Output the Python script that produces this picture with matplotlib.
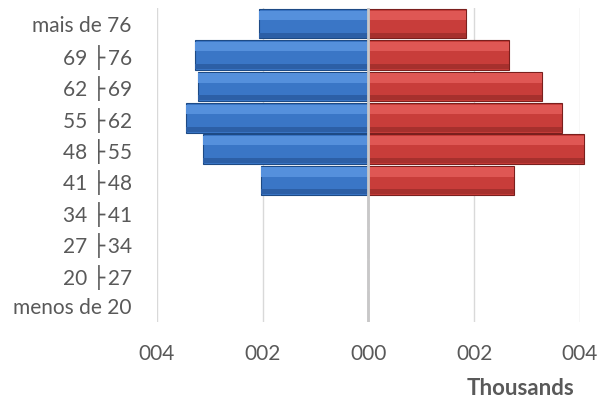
import matplotlib.pyplot as plt
from matplotlib.ticker import FuncFormatter

# age groups, bottom to top
faixas = ['menos de 20', '20 ├\u200927', '27 ├\u200934', '34 ├\u200941', '41 ├\u200948',
          '48 ├\u200955', '55 ├\u200962', '62 ├\u200969', '69 ├\u200976', 'mais de 76']
# values in thousands
esquerda = [0, 0, 0, 0, 2.02, 3.13, 3.45, 3.21, 3.27, 2.06]   # blue, left side
direita = [0, 0, 0, 0, 2.76, 4.07, 3.65, 3.29, 2.65, 1.84]    # red, right side

plt.rcParams['font.family'] = ['Lato', 'DejaVu Sans']
cinza = '#595959'

fig = plt.figure(figsize=(5.98, 4.03), dpi=100)
ax = fig.add_axes([0.262, 0.202, 0.708, 0.778])

y = list(range(len(faixas)))
neg = [-v for v in esquerda]
ax.barh(y, neg, height=0.94, color='#3a76c6', edgecolor='#1d4a85', linewidth=0.8, zorder=3, clip_on=False)
ax.barh(y, direita, height=0.94, color='#c83d3a', edgecolor='#7a1f1d', linewidth=0.8, zorder=3, clip_on=False)
# lighter bevel on the upper part, darker on the lower part
ax.barh([i + 0.27 for i in y], neg, height=0.3, color='#5590dc', linewidth=0, zorder=4, clip_on=False)
ax.barh([i + 0.27 for i in y], direita, height=0.3, color='#df5754', linewidth=0, zorder=4, clip_on=False)
ax.barh([i - 0.36 for i in y], neg, height=0.16, color='#2c5fa6', linewidth=0, zorder=4, clip_on=False)
ax.barh([i - 0.36 for i in y], direita, height=0.16, color='#a6302d', linewidth=0, zorder=4, clip_on=False)

ax.set_xlim(-4, 4)
ax.set_ylim(-0.5, len(faixas) - 0.5)
ax.set_xticks([-4, -2, 0, 2, 4])
ax.xaxis.set_major_formatter(FuncFormatter(lambda v, p: f'{abs(v):03.0f}'))
ax.set_yticks(y)
ax.set_yticklabels(faixas)

ax.grid(axis='x', color='#d9d9d9', linewidth=1, zorder=0)
ax.axvline(0, color='#c8c8c8', linewidth=2, zorder=5)
for s in ax.spines.values():
    s.set_visible(False)
ax.tick_params(axis='both', length=0, labelsize=15, colors=cinza)
ax.tick_params(axis='x', pad=16)
ax.tick_params(axis='y', pad=18)

ax.set_xlabel('Thousands', fontsize=16, fontweight='bold', color=cinza)
ax.xaxis.set_label_coords(0.86, -0.18)

fig.savefig('out.png', dpi=100)
